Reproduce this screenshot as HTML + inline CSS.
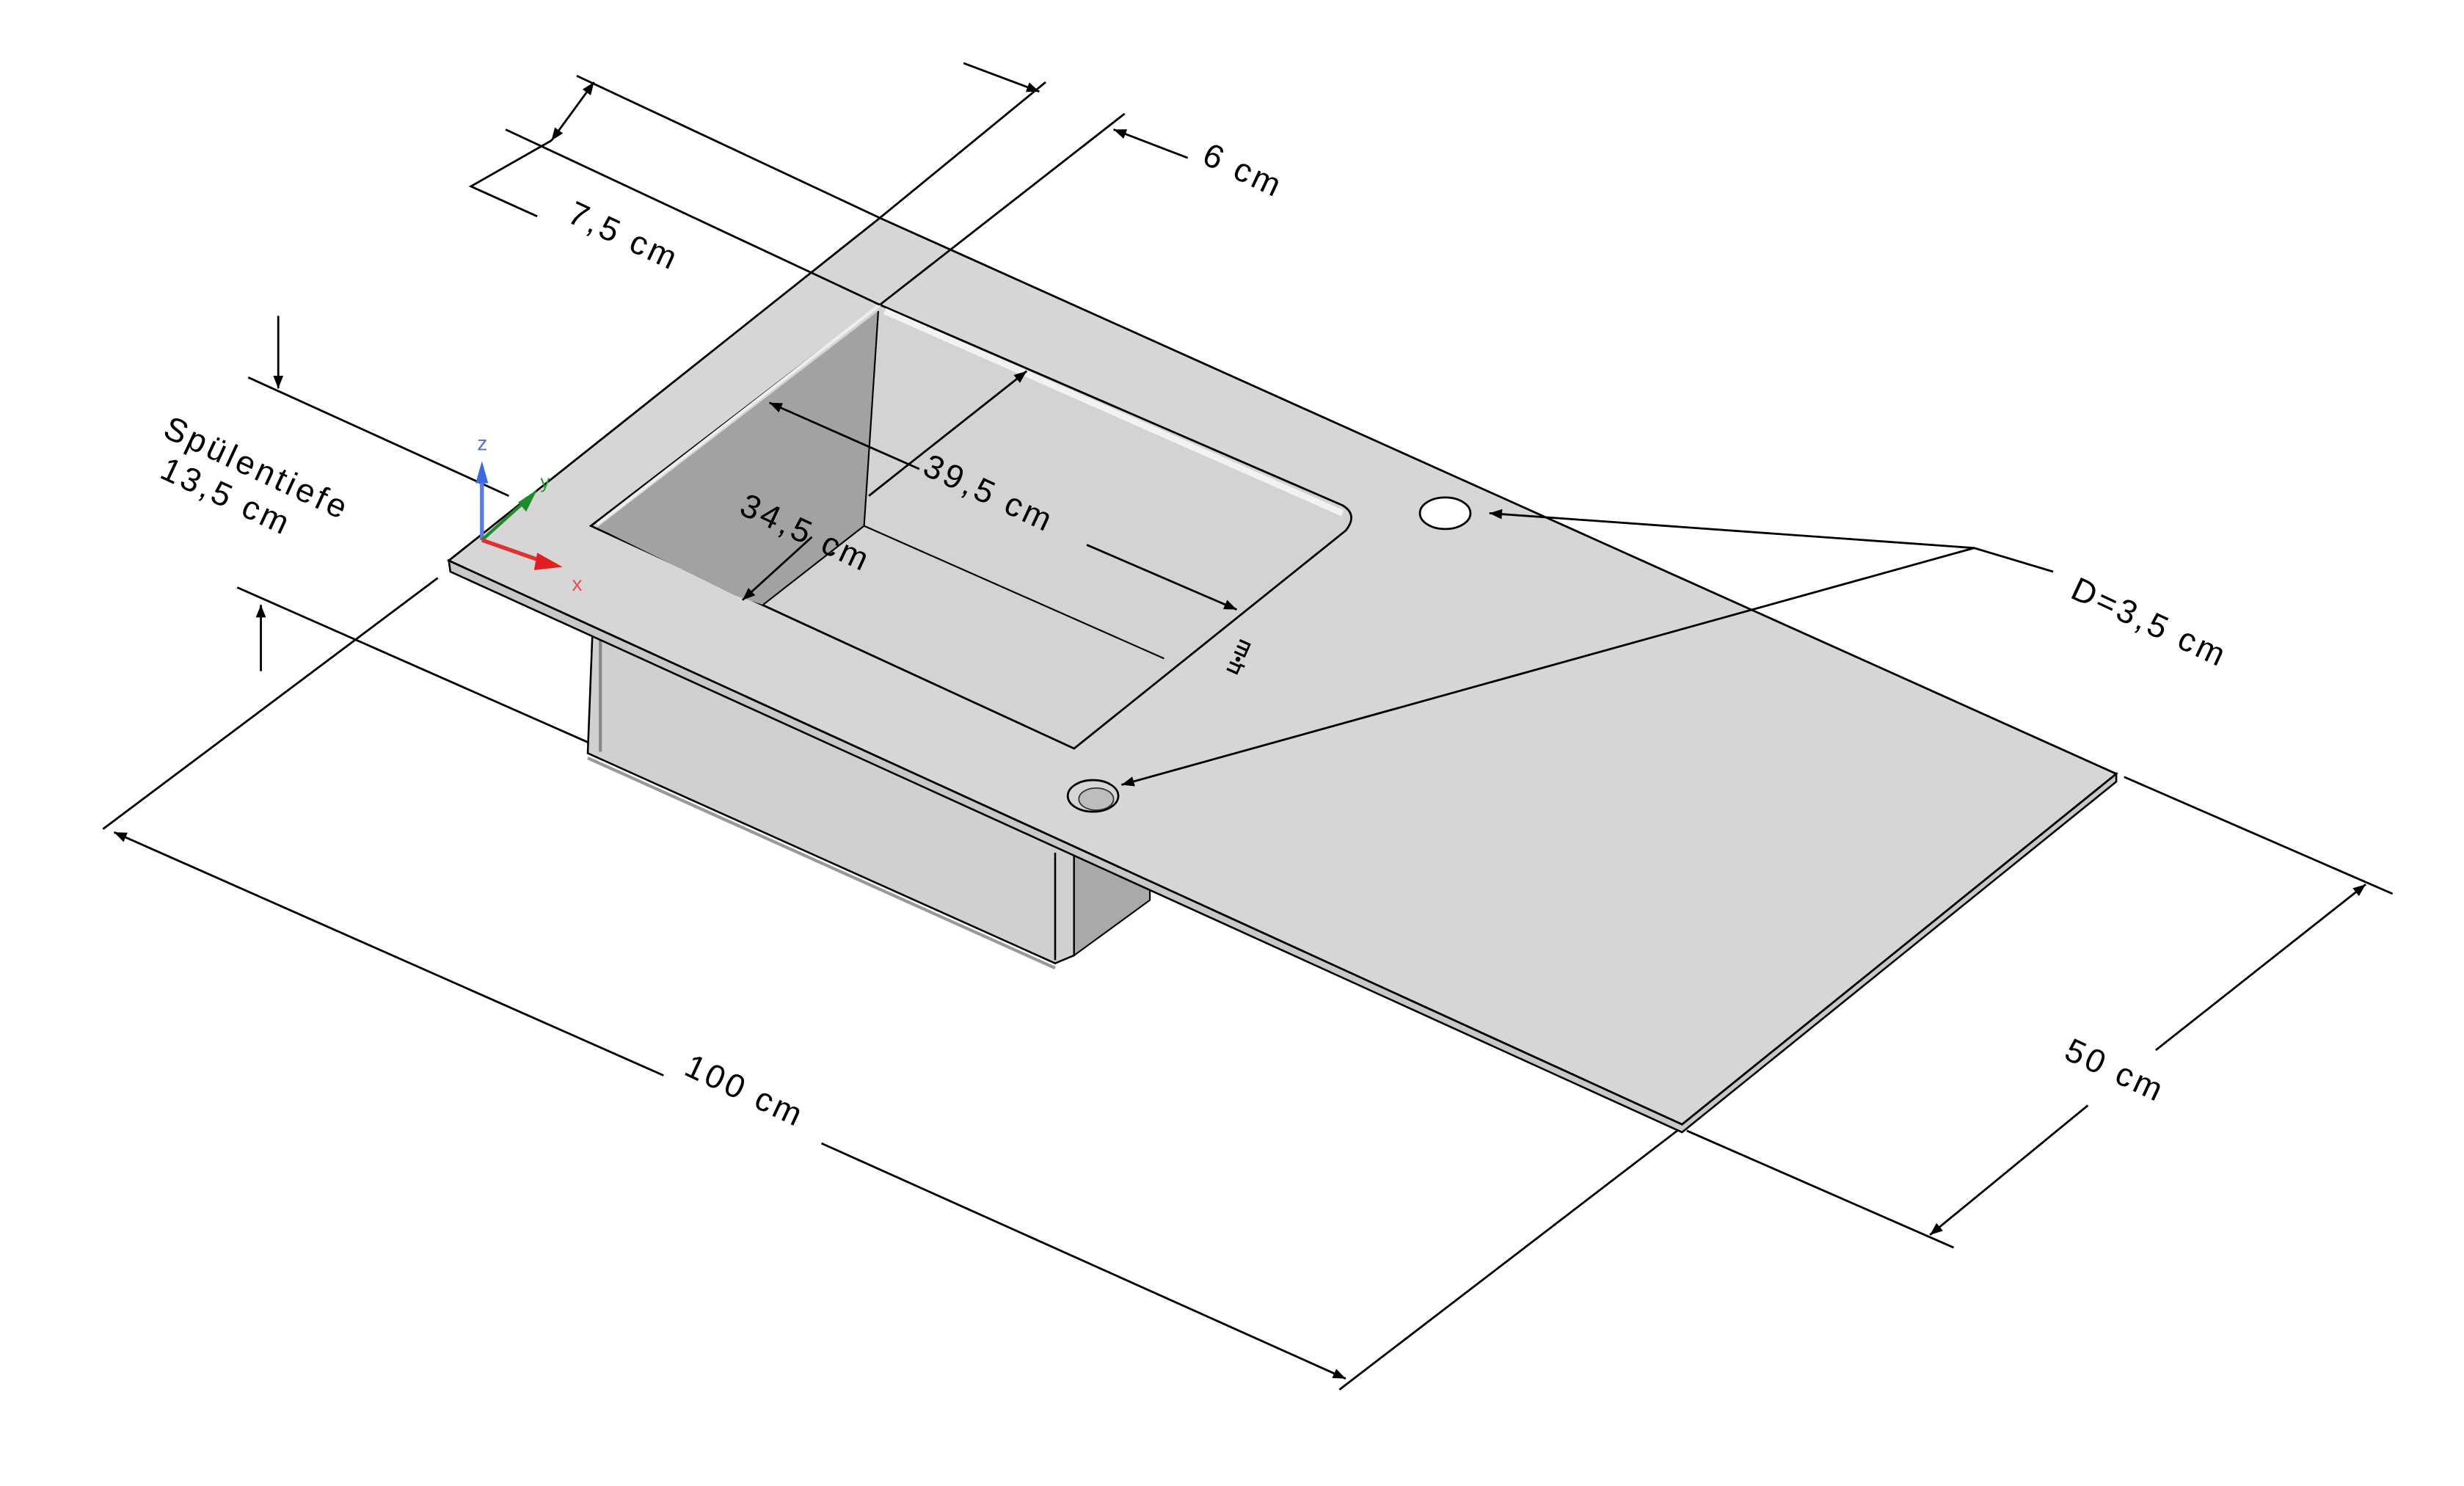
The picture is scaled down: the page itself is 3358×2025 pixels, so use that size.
<!DOCTYPE html>
<html><head><meta charset="utf-8"><style>html,body{margin:0;padding:0;background:#fff}svg{display:block}</style></head>
<body>
<svg width="3358" height="2025" viewBox="0 0 1560 941" xmlns="http://www.w3.org/2000/svg" font-family="Liberation Sans, DejaVu Sans, sans-serif">
<defs>
<marker id="a" viewBox="0 0 10 10" refX="10" refY="5" markerWidth="16" markerHeight="8" orient="auto-start-reverse" markerUnits="userSpaceOnUse"><path d="M0,1 L10,5 L0,9 z" fill="#000"/></marker>
</defs>
<rect width="1560" height="941" fill="#fff"/>
<g stroke="#000" stroke-width="1.3" fill="none">
<line x1="157" y1="239" x2="322" y2="314"/>
<line x1="150" y1="372" x2="372" y2="470"/>
<line x1="277" y1="366" x2="65" y2="525"/>
<line x1="1062" y1="716" x2="848" y2="880"/>
<line x1="1345" y1="492" x2="1515" y2="566"/>
<line x1="1068" y1="716" x2="1237" y2="790"/>
</g>
<polygon points="375,400 680,538 680,605 668,610 372,477" fill="#d0d0d0" stroke="#000" stroke-width="1.2"/>
<polygon points="680,538 728,560 728,570 680,605" fill="#a9a9a9" stroke="#000" stroke-width="1"/>
<line x1="380" y1="405" x2="380" y2="476" stroke="#888" stroke-width="2"/>
<line x1="668" y1="540" x2="668" y2="608" stroke="#000" stroke-width="1.2"/>
<line x1="372" y1="480" x2="668" y2="613" stroke="#999" stroke-width="2"/>
<polygon points="284,355 1065,712 1340,490 1340,495 1065,717 285,362" fill="#c8c8c8" stroke="#000" stroke-width="1.2"/>
<polygon points="557,138 1340,490 1065,712 284,355" fill="#d6d6d6" stroke="#000" stroke-width="1.3"/>
<path d="M557,193 L850,320 Q860,326 852,336 L680,474 L374,333 Z" fill="#d3d3d3" stroke="#000" stroke-width="1.3"/>
<polygon points="378,334 556,197 547,333 483,383 465,377" fill="#a2a2a2"/>
<line x1="556" y1="197" x2="547" y2="333" stroke="#000" stroke-width="1"/>
<line x1="547" y1="333" x2="737" y2="417" stroke="#000" stroke-width="1"/>
<line x1="547" y1="333" x2="483" y2="383" stroke="#000" stroke-width="1"/>
<line x1="560" y1="197" x2="850" y2="325" stroke="#f2f2f2" stroke-width="4"/>
<line x1="378" y1="332" x2="557" y2="193" stroke="#eee" stroke-width="2"/>
<g stroke="#000" stroke-width="1.3" fill="none">
<line x1="365" y1="48" x2="557" y2="138"/>
<line x1="320" y1="82" x2="557" y2="193"/>
<line x1="557" y1="138" x2="662" y2="52"/>
<line x1="557" y1="193" x2="712" y2="72"/>
</g>
<ellipse cx="915" cy="325" rx="16" ry="10" fill="#fff" stroke="#000" stroke-width="1.3"/>
<ellipse cx="692" cy="504" rx="16" ry="10" fill="#d6d6d6" stroke="#000" stroke-width="1.3"/>
<ellipse cx="694" cy="506" rx="11" ry="7" fill="#bdbdbd" stroke="#333" stroke-width="0.8"/>
<text x="0" y="0" font-size="11" font-weight="bold" transform="translate(783,428) rotate(-66)">Ц•Ш</text>
<g stroke="#000" stroke-width="1.3" fill="none">
<line x1="487" y1="255" x2="582" y2="297" marker-start="url(#a)"/>
<line x1="688" y1="345" x2="783" y2="386" marker-end="url(#a)"/>
<line x1="650" y1="235" x2="550" y2="314" marker-start="url(#a)"/>
<line x1="514" y1="340" x2="470" y2="380" marker-end="url(#a)"/>
<line x1="376" y1="52" x2="349" y2="89" marker-start="url(#a)" marker-end="url(#a)"/>
<polyline points="349,89 298,118 340,137"/>
<line x1="610" y1="40" x2="658" y2="58" marker-end="url(#a)"/>
<line x1="752" y1="100" x2="705" y2="82" marker-end="url(#a)"/>
<line x1="176" y1="200" x2="176" y2="246" marker-end="url(#a)"/>
<line x1="165" y1="425" x2="165" y2="383" marker-end="url(#a)"/>
<line x1="72" y1="527" x2="420" y2="681" marker-start="url(#a)"/>
<line x1="520" y1="724" x2="852" y2="873" marker-end="url(#a)"/>
<line x1="1498" y1="560" x2="1365" y2="665" marker-start="url(#a)"/>
<line x1="1322" y1="700" x2="1222" y2="782" marker-end="url(#a)"/>
<polyline points="1300,362 1250,347 943,325" marker-end="url(#a)"/>
<line x1="1250" y1="347" x2="710" y2="497" marker-end="url(#a)"/>
</g>
<line x1="305" y1="342" x2="305" y2="298" stroke="#5b7de0" stroke-width="2.5"/>
<path d="M301,306 L305,292 L309,306 Z" fill="#3a6ae0"/>
<text x="302" y="285" font-size="13" fill="#5b6ad8">z</text>
<line x1="305" y1="342" x2="335" y2="315" stroke="#1f8a2a" stroke-width="2"/>
<path d="M328,318 L340,310 L333,324 Z" fill="#1f8a2a"/>
<text x="342" y="309" font-size="12" fill="#2a9a3a">y</text>
<line x1="305" y1="342" x2="345" y2="356" stroke="#e03030" stroke-width="2.5"/>
<path d="M340,350 L356,359 L338,361 Z" fill="#e02020"/>
<text x="362" y="374" font-size="13" fill="#e05050">x</text>
<g font-size="21" fill="#000" letter-spacing="2">
<text transform="translate(358,140) rotate(25)">7,5 cm</text>
<text transform="translate(760,103) rotate(25)">6 cm</text>
<text transform="translate(583,300) rotate(25)">39,5 cm</text>
<text transform="translate(467,325) rotate(25)">34,5 cm</text>
<text transform="translate(432,680) rotate(25)">100 cm</text>
<text transform="translate(1306,670) rotate(25)">50 cm</text>
<text transform="translate(1310,378) rotate(25)">D=3,5 cm</text>
<text transform="translate(102,276) rotate(25)">Spülentiefe</text>
<text transform="translate(100,302) rotate(25)">13,5 cm</text>
</g>
</svg>
</body></html>
